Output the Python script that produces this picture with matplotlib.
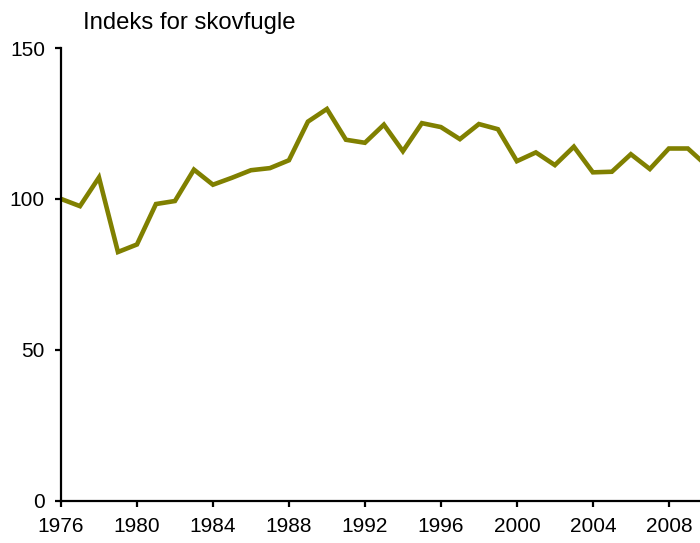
import matplotlib
matplotlib.use("Agg")
import matplotlib.pyplot as plt

plt.rcParams["font.family"] = ["Liberation Sans", "DejaVu Sans"]

# Indeks for skovfugle (1976 = 100)
years = list(range(1976, 2011))
index = [100.0, 97.6, 107.1, 82.4, 84.9, 98.3, 99.3, 109.7, 104.7, 107.0,
         109.5, 110.2, 112.8, 125.6, 129.8, 119.6, 118.6, 124.6, 115.8, 125.1,
         123.8, 119.8, 124.8, 123.1, 112.5, 115.4, 111.2, 117.3, 108.8, 109.0,
         114.8, 109.9, 116.7, 116.7, 111.0]
yticks = [0, 50, 100, 150]
xticks = list(range(1976, 2009, 4))

fig = plt.figure(figsize=(7.0, 5.43), dpi=100)
ax = fig.add_axes([0.0871, 0.0779, 0.9129, 0.8337])

ax.plot(years, index, color="#808000", lw=3.3, solid_joinstyle="miter")

ax.set_xlim(1976, 2009.64)
ax.set_ylim(0, 150)
ax.set_xticks(xticks)
ax.set_yticks(yticks)

for side in ("top", "right"):
    ax.spines[side].set_visible(False)
for side in ("left", "bottom"):
    ax.spines[side].set_linewidth(1.6)
ax.tick_params(direction="out", length=4.5, width=1.6, labelsize=15, pad=7)

fig.text(83 / 700, 1 - 29.5 / 543, "Indeks for skovfugle", fontsize=17.2,
         ha="left", va="baseline")

fig.savefig("out.png", dpi=100)
